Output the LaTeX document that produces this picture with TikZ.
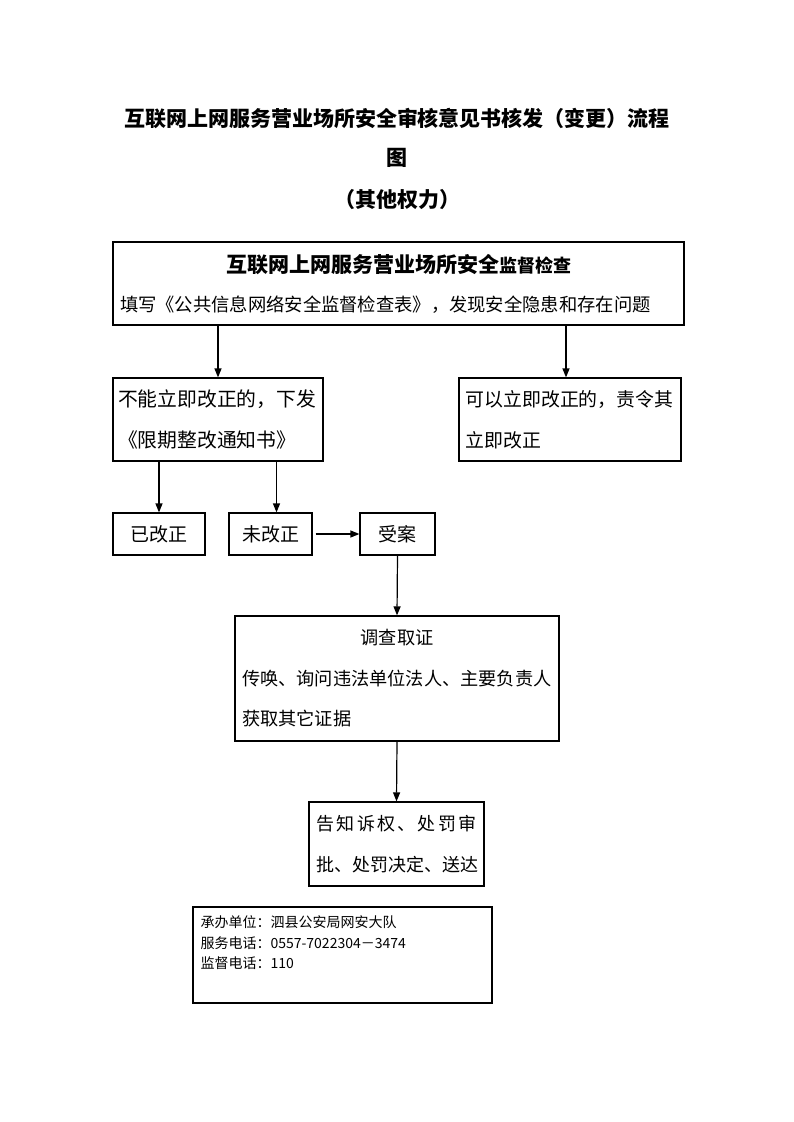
\documentclass[tikz,border=0pt]{standalone}
\usepackage{fontspec}
\setmainfont{Noto Sans CJK SC}
\usetikzlibrary{arrows.meta,positioning}
\tikzset{
  box/.style={draw, line width=1.2pt, inner sep=0pt},
  flow/.style={-{Triangle[length=9pt,width=7pt]}, line width=1.2pt},
}

\begin{document}
\begin{tikzpicture}[x=1pt,y=-1pt]
  \useasboundingbox (0,0) rectangle (793,1122);
  % title
  \node[font=\fontsize{21}{21}\selectfont\bfseries] (title1) at (397,118) {互联网上网服务营业场所安全审核意见书核发（变更）流程};
  \node[font=\fontsize{21}{21}\selectfont\bfseries] (title2) at (397,158) {图};
  \node[font=\fontsize{21}{21}\selectfont\bfseries] (title3) at (397,200) {（其他权力）};

  % boxes
  \node[box, minimum width=571pt, minimum height=83pt, text width=557pt, align=left,
        font=\fontsize{18.3}{39}\selectfont] (check) at (398.5,283.5)
    {\centerline{\bfseries\fontsize{21}{21}\selectfont 互联网上网服务营业场所安全\fontsize{18}{21}\selectfont 监督检查}
     \noindent 填写《公共信息网络安全监督检查表》，发现安全隐患和存在问题};
  \node[box, minimum width=210pt, minimum height=83pt, text width=200pt, align=left,
        font=\fontsize{19.8}{41}\selectfont] (notnow) at (218,419.5)
    {不能立即改正的，下发\\《限期整改通知书》};
  \node[box, minimum width=222pt, minimum height=83pt, text width=209pt, align=left,
        font=\fontsize{18.9}{41}\selectfont] (atonce) at (570,419.5)
    {可以立即改正的，责令其\\立即改正};
  \node[box, minimum width=92pt, minimum height=42pt, font=\fontsize{19}{19}\selectfont] (done) at (159,534) {已改正};
  \node[box, minimum width=83pt, minimum height=42pt, font=\fontsize{19}{19}\selectfont] (notyet) at (270.5,534) {未改正};
  \node[box, minimum width=75pt, minimum height=42pt, font=\fontsize{19}{19}\selectfont] (accept) at (397.5,534) {受案};
  \node[box, minimum width=324pt, minimum height=125pt, text width=310pt, align=left,
        font=\fontsize{18.2}{40.5}\selectfont] (probe) at (397,678.5)
    {\centerline{调查取证}
     \noindent 传唤、询问违法单位法人、主要负责人\\获取其它证据};
  \node[box, minimum width=175pt, minimum height=84pt, align=center,
        font=\fontsize{18}{41}\selectfont] (notify) at (396.5,844)
    {\makebox[160pt][s]{告\hfill 知\hfill 诉\hfill 权\hfill 、\hfill 处\hfill 罚\hfill 审}\\
     \makebox[160pt][s]{批\hfill 、\hfill 处\hfill 罚\hfill 决\hfill 定\hfill 、\hfill 送\hfill 达}};
  \node[box, minimum width=299pt, minimum height=96pt, text width=284pt, align=left,
        font=\fontsize{14}{20.5}\selectfont] (info) at (342.5,955)
    {承办单位：泗县公安局网安大队\\服务电话：0557-7022304－3474\\监督电话：110\\[5pt]\mbox{}};

  % connectors
  \draw[flow] (notnow.north |- check.south) -- (notnow.north);
  \draw[flow] ([xshift=-4pt]atonce.north |- check.south) -- ([xshift=-4pt]atonce.north);
  \draw[flow] (done.north |- notnow.south) -- (done.north);
  \draw[flow] ([xshift=6pt]notyet.north |- notnow.south) -- ([xshift=6pt]notyet.north);
  \draw[flow] ([xshift=3pt]notyet.east) -- (accept.west);
  \draw[flow] (accept.south) -- (probe.north);
  \draw[flow] (probe.south) -- (notify.north);
\end{tikzpicture}
\end{document}
